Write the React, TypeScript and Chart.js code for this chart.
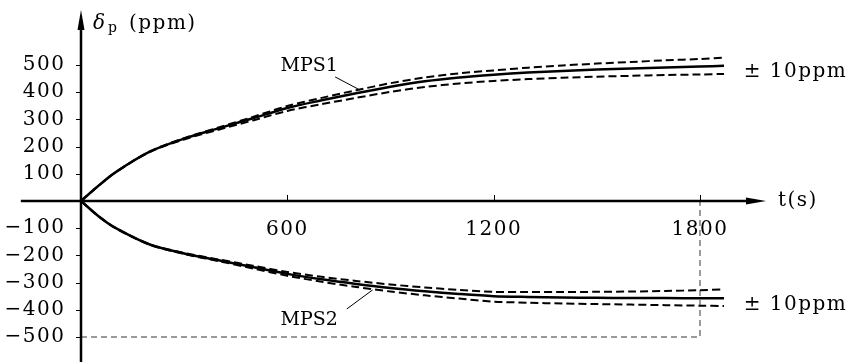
import React, { useEffect, useRef } from 'react';
import { Chart, registerables } from 'chart.js';
Chart.register(...registerables);

// time axis (s)
const times = [0, 50, 100, 200, 300, 400, 500, 600, 700, 800, 900, 1000, 1100, 1200, 1300, 1400, 1500, 1600, 1700, 1800, 1870];
// MPS1 (ppm)
const mps1 = [0, 55, 105, 181, 229, 267, 304, 342, 370, 396, 420, 440, 454, 464, 472, 478, 483, 487, 491, 494, 497];
const mps1Upper = [0, 55, 105, 182, 231, 270, 309, 349, 379, 407, 433, 454, 469, 480, 490, 498, 505, 511, 517, 522, 527];
const mps1Lower = [0, 55, 105, 180, 226, 262, 296, 331, 356, 379, 401, 419, 432, 441, 448, 453, 457, 460, 463, 465, 467];
// MPS2 (ppm)
const mps2 = [0, -55, -99, -160, -193, -218, -243, -268, -288, -305, -320, -332, -342, -350, -353, -355, -356, -357, -357, -358, -358];
const mps2Upper = [0, -55, -98, -159, -191, -215, -238, -261, -279, -294, -307, -318, -327, -334, -335, -335, -334, -333, -331, -328, -325];
const mps2Lower = [0, -55, -100, -161, -195, -221, -248, -275, -297, -316, -333, -347, -359, -370, -374, -377, -379, -381, -383, -385, -386];
// guide lines (t = 1800 s, -500 ppm)
const guideX = [0, 1800, 1800];
const guideY = [-500, -500, 0];
// ticks
const xTicks = [600, 1200, 1800];
const yTicks = [-500, -400, -300, -200, -100, 100, 200, 300, 400, 500];
// annotations
const labelTexts = ['MPS1', 'MPS2'];
const labelX = [580, 580];
const labelY = [476, -456];
const leaderX1 = [739, 773];
const leaderY1 = [456, -397];
const leaderX2 = [811, 848];
const leaderY2 = [408, -327];
const tolText = '± 10ppm';
const tolX = [1927, 1927];
const tolY = [456, -401];

const FONT = '"DejaVu Serif", "Liberation Serif", serif';

export default function App() {
  const ref = useRef<HTMLCanvasElement>(null);
  useEffect(() => {
    const canvas = ref.current!;
    const pts = (xs: number[], ys: number[]) => xs.map((x, i) => ({ x, y: ys[i] }));
    const overlay = {
      id: 'overlay',
      beforeDraw(chart: any) {
        chart.ctx.letterSpacing = '1.5px';
      },
      afterDraw(chart: any) {
        const { ctx } = chart;
        const x = chart.scales.x;
        const y = chart.scales.y;
        const x0 = x.getPixelForValue(0);
        const y0 = y.getPixelForValue(0);
        ctx.save();
        ctx.strokeStyle = '#000';
        ctx.fillStyle = '#000';
        // x axis
        const xl = x.getPixelForValue(-175);
        const xr = x.right;
        ctx.lineWidth = 2.5;
        ctx.beginPath();
        ctx.moveTo(xl, y0);
        ctx.lineTo(xr - 10, y0);
        ctx.stroke();
        ctx.beginPath();
        ctx.moveTo(xr, y0);
        ctx.lineTo(xr - 20, y0 - 3.5);
        ctx.lineTo(xr - 20, y0 + 3.5);
        ctx.closePath();
        ctx.fill();
        // y axis
        const yt = y.top;
        ctx.beginPath();
        ctx.moveTo(x0, y.bottom);
        ctx.lineTo(x0, yt + 10);
        ctx.stroke();
        ctx.beginPath();
        ctx.moveTo(x0, yt);
        ctx.lineTo(x0 - 3.5, yt + 20);
        ctx.lineTo(x0 + 3.5, yt + 20);
        ctx.closePath();
        ctx.fill();
        // tick marks
        ctx.lineWidth = 1;
        for (const t of xTicks) {
          const px = Math.round(x.getPixelForValue(t)) + 0.5;
          ctx.beginPath();
          ctx.moveTo(px, y0);
          ctx.lineTo(px, y0 - 6);
          ctx.stroke();
        }
        for (const v of yTicks) {
          const py = Math.round(y.getPixelForValue(v)) + 0.5;
          ctx.beginPath();
          ctx.moveTo(x0 - 5, py);
          ctx.lineTo(x0, py);
          ctx.stroke();
        }
        // leaders
        for (let i = 0; i < leaderX1.length; i++) {
          ctx.beginPath();
          ctx.moveTo(x.getPixelForValue(leaderX1[i]), y.getPixelForValue(leaderY1[i]));
          ctx.lineTo(x.getPixelForValue(leaderX2[i]), y.getPixelForValue(leaderY2[i]));
          ctx.stroke();
        }
        ctx.textAlign = 'left';
        ctx.textBaseline = 'alphabetic';
        // series labels
        ctx.letterSpacing = '0px';
        ctx.font = `19px ${FONT}`;
        for (let i = 0; i < labelTexts.length; i++) {
          ctx.fillText(labelTexts[i], x.getPixelForValue(labelX[i]), y.getPixelForValue(labelY[i]));
        }
        // y title
        ctx.font = `italic 20px ${FONT}`;
        ctx.fillText('δ', 93, 28.5);
        ctx.font = `14px ${FONT}`;
        ctx.fillText('p', 108, 32);
        ctx.letterSpacing = '1.5px';
        ctx.font = `20px ${FONT}`;
        ctx.fillText('(ppm)', 129, 28.5);
        // x title
        ctx.fillText('t(s)', 778, 206);
        // tolerance labels
        for (let i = 0; i < tolX.length; i++) {
          ctx.fillText(tolText, x.getPixelForValue(tolX[i]), y.getPixelForValue(tolY[i]));
        }
        ctx.restore();
      },
    };
    const solid = { borderColor: '#000', borderWidth: 2.5, pointRadius: 0, showLine: true, tension: 0.3, fill: false };
    const dashed = { borderColor: '#000', borderWidth: 2, borderDash: [8, 4], pointRadius: 0, showLine: true, tension: 0.3, fill: false };
    const chart = new Chart(canvas, {
      type: 'scatter',
      data: {
        datasets: [
          { label: 'MPS1', data: pts(times, mps1), ...solid },
          { label: 'MPS1 +', data: pts(times, mps1Upper), ...dashed },
          { label: 'MPS1 -', data: pts(times, mps1Lower), ...dashed },
          { label: 'MPS2', data: pts(times, mps2), ...solid },
          { label: 'MPS2 +', data: pts(times, mps2Upper), ...dashed },
          { label: 'MPS2 -', data: pts(times, mps2Lower), ...dashed },
          {
            label: 'guide',
            data: pts(guideX, guideY),
            borderColor: '#7a7a7a',
            borderWidth: 1.5,
            borderDash: [6, 4],
            pointRadius: 0,
            showLine: true,
            tension: 0,
            fill: false,
          },
        ],
      },
      options: {
        animation: false,
        responsive: false,
        maintainAspectRatio: false,
        events: [],
        color: '#000',
        layout: { padding: { left: 0, right: 82, top: 10, bottom: 0 } },
        plugins: { legend: { display: false }, tooltip: { enabled: false } },
        scales: {
          x: {
            type: 'linear',
            min: 0,
            max: 1992,
            position: { y: 0 },
            grid: { display: false },
            border: { display: false },
            afterBuildTicks: (s: any) => {
              s.ticks = xTicks.map((v) => ({ value: v }));
            },
            ticks: {
              color: '#000',
              font: { family: FONT, size: 20 },
              padding: 9,
              maxRotation: 0,
              autoSkip: false,
              callback: (v: any) => String(v),
            },
          },
          y: {
            type: 'linear',
            min: -592,
            max: 702,
            position: 'left',
            grid: { display: false },
            border: { display: false },
            afterBuildTicks: (s: any) => {
              s.ticks = yTicks.map((v) => ({ value: v }));
            },
            afterFit: (s: any) => {
              s.width = 81;
              s.paddingTop = 0;
              s.paddingBottom = 0;
            },
            ticks: {
              color: '#000',
              font: { family: FONT, size: 20 },
              padding: 7.5,
              autoSkip: false,
              callback: (v: any) => (v < 0 ? '−' + Math.abs(v) : String(v)),
            },
          },
        },
      },
      plugins: [overlay],
    });
    return () => chart.destroy();
  }, []);
  return (
    <div style={{ position: 'fixed', left: 0, top: 0, width: 848, height: 362, background: '#fff' }}>
      <canvas ref={ref} width={848} height={362} style={{ display: 'block', width: 848, height: 362 }} />
    </div>
  );
}
